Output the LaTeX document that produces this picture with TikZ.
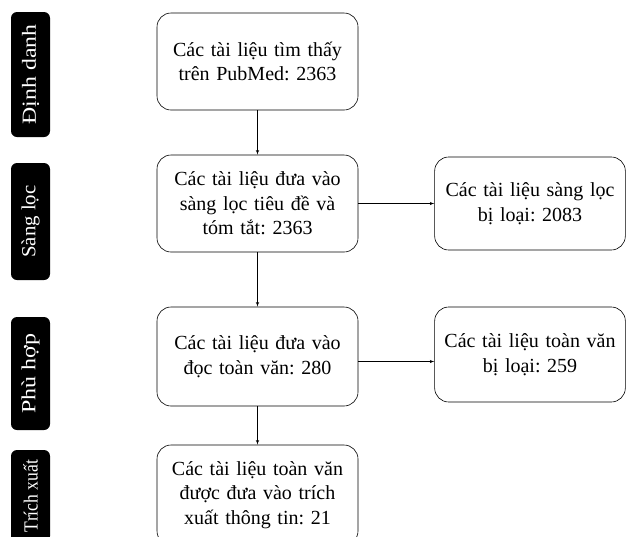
\documentclass[tikz,border=0pt]{standalone}
\usepackage{graphicx}
\usepackage{fontspec}
\setmainfont{Liberation Serif}
\frenchspacing
\usetikzlibrary{shapes,arrows}
\tikzstyle{line} = [draw, -latex', line width=0.6pt]
\tikzstyle{box} = [draw, line width=0.6pt, rounded corners=14pt, minimum width=201pt, minimum height=97pt, text width=194pt, align=center, font=\fontsize{20}{24.5}\selectfont]
\tikzstyle{outbox} = [box, minimum width=190pt, text width=184pt]
\tikzstyle{stage} = [fill=black, text=white, rounded corners=6pt, rotate=90, minimum height=39pt, font=\fontsize{20}{22}\selectfont]

\begin{document}
\begin{tikzpicture}[x=1pt,y=-1pt]

\useasboundingbox (0,0) rectangle (626,536);
\clip (0,0) rectangle (626,536);

%\draw[help lines] (0,0) grid (626,536);

% stages
\node[stage, minimum width=125pt] (dinh) at (30.5,74.5) {\scalebox{1.19}[1]{Định danh}};
\node[stage, minimum width=117pt] (sang) at (30.5,221.5) {\scalebox{1.04}[1]{Sàng lọc}};
\node[stage, minimum width=113pt] (phu) at (30.5,373.5) {\scalebox{1.2}[1]{Phù hợp}};
\node[stage, minimum width=92pt] (trich) at (30.5,496) {\scalebox{0.88}[1]{Trích xuất}};

% boxes
\node[box] (pubmed) at (257.5,61.5) {Các tài liệu tìm thấy\\trên PubMed: 2363};
\node[box] (sangloc) at (257.5,203.5) {Các tài liệu đưa vào\\sàng lọc tiêu đề và\\tóm tắt: 2363};
\node[outbox, minimum height=93pt] (loai1) at (530,203.5) {Các tài liệu sàng lọc\\bị loại: 2083};
\node[box, minimum height=99pt] (toanvan) at (257.5,356.5) {Các tài liệu đưa vào\\đọc toàn văn: 280};
\node[outbox, minimum height=95pt] (loai2) at (530,354.5) {Các tài liệu toàn văn\\bị loại: 259};
\node[box, minimum height=100pt] (trichxuat) at (257.5,495) {Các tài liệu toàn văn\\được đưa vào trích\\xuất thông tin: 21};

% arrows
\draw[line] (pubmed) -- (sangloc);
\draw[line] (sangloc) -- (loai1);
\draw[line] (sangloc) -- (toanvan);
\draw[line] ([yshift=-5pt]toanvan.east) -- ([yshift=-5pt]toanvan.east -| loai2.west);
\draw[line] (toanvan) -- (trichxuat);

\end{tikzpicture}
\end{document}
